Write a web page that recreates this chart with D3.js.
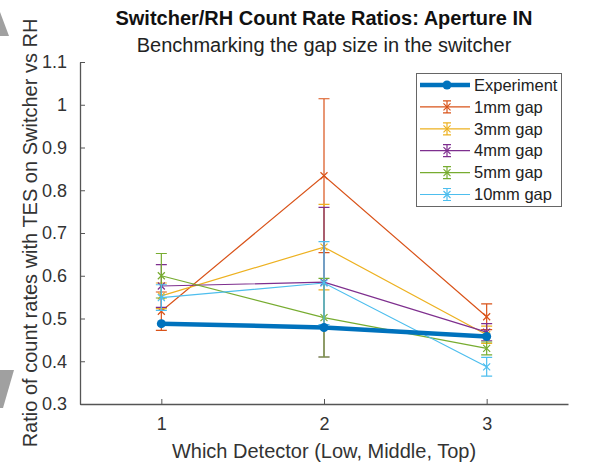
<!DOCTYPE html>
<html>
<head>
<meta charset="utf-8">
<script src="https://cdn.jsdelivr.net/npm/d3@7"></script>
<style>
  body { margin: 0; background: #fff; }
  svg { display: block; font-family: 'Liberation Sans', Arial, sans-serif; }
</style>
</head>
<body>
<div id="chart"></div>
<script>
// data
const detectors = [1, 2, 3];
const experiment = [0.488, 0.479, 0.458];
const gap1mm = [0.517, 0.834, 0.504];
const gap1mmErr = [0.045, 0.18, 0.03];
const gap3mm = [0.553, 0.667, 0.462];
const gap3mmErr = [0.03, 0.1, 0.02];
const gap4mm = [0.576, 0.585, 0.468];
const gap4mmErr = [0.05, 0.175, 0.02];
const gap5mm = [0.600, 0.502, 0.430];
const gap5mmErr = [0.052, 0.092, 0.015];
const gap10mm = [0.549, 0.583, 0.387];
const gap10mmErr = [0.03, 0.097, 0.022];
const seriesNames = ['1mm gap', '3mm gap', '4mm gap', '5mm gap', '10mm gap'];
const yTicks = [0.3, 0.4, 0.5, 0.6, 0.7, 0.8, 0.9, 1, 1.1];

const series = [
  { name: seriesNames[0], values: gap1mm, err: gap1mmErr, color: '#D95319' },
  { name: seriesNames[1], values: gap3mm, err: gap3mmErr, color: '#EDB120' },
  { name: seriesNames[2], values: gap4mm, err: gap4mmErr, color: '#7E2F8E' },
  { name: seriesNames[3], values: gap5mm, err: gap5mmErr, color: '#77AC30' },
  { name: seriesNames[4], values: gap10mm, err: gap10mmErr, color: '#4DBEEE' }
];

const width = 599;
const height = 463;
const svg = d3.select('#chart').append('svg')
  .attr('width', width)
  .attr('height', height);

// screenshot artefacts at left edge
svg.append('path').attr('d', 'M0,12 L9,36 L0,36 Z').attr('fill', '#a0a0a0');
svg.append('path').attr('d', 'M0,370 L14,370 L3,408 L0,408 Z').attr('fill', '#a0a0a0');

const plotLeft = 80, plotRight = 568, plotTop = 62, plotBottom = 404;

const x = d3.scaleLinear().domain([0.5, 3.5]).range([plotLeft, plotRight]);
const y = d3.scaleLinear().domain([0.3, 1.1]).range([plotBottom, plotTop]);

const axisColor = '#555';

// y axis
const yAxis = svg.append('g')
  .attr('transform', `translate(${plotLeft},0)`)
  .call(d3.axisLeft(y).tickValues(yTicks).tickSizeInner(-5).tickSizeOuter(0).tickPadding(13)
    .tickFormat(d => String(+d.toFixed(1))));
yAxis.select('.domain').attr('stroke', axisColor).attr('stroke-width', 1.3);
yAxis.selectAll('.tick line').attr('stroke', axisColor);
yAxis.selectAll('.tick text').attr('fill', '#333').attr('font-size', 18);

// x axis
const xAxis = svg.append('g')
  .attr('transform', `translate(0,${plotBottom})`)
  .call(d3.axisBottom(x).tickValues(detectors).tickSizeInner(-5).tickSizeOuter(0).tickPadding(13)
    .tickFormat(d3.format('d')));
xAxis.select('.domain').attr('stroke', axisColor).attr('stroke-width', 1.3);
xAxis.selectAll('.tick line').attr('stroke', axisColor);
xAxis.selectAll('.tick text').attr('fill', '#333').attr('font-size', 18);

// titles
svg.append('text')
  .attr('x', (plotLeft + plotRight) / 2)
  .attr('y', 25)
  .attr('text-anchor', 'middle')
  .attr('font-weight', 'bold')
  .attr('font-size', 20)
  .attr('fill', '#111')
  .text('Switcher/RH Count Rate Ratios: Aperture IN');

svg.append('text')
  .attr('x', (plotLeft + plotRight) / 2)
  .attr('y', 52)
  .attr('text-anchor', 'middle')
  .attr('font-size', 20)
  .attr('fill', '#222')
  .text('Benchmarking the gap size in the switcher');

svg.append('text')
  .attr('x', (plotLeft + plotRight) / 2)
  .attr('y', 458)
  .attr('text-anchor', 'middle')
  .attr('font-size', 20)
  .attr('fill', '#333')
  .text('Which Detector (Low, Middle, Top)');

svg.append('text')
  .attr('transform', `translate(37, 233) rotate(-90)`)
  .attr('text-anchor', 'middle')
  .attr('font-size', 20)
  .attr('fill', '#333')
  .text('Ratio of count rates with TES on Switcher vs RH');

const line = d3.line()
  .x((d, i) => x(detectors[i]))
  .y(d => y(d));

const cap = 5.5;
const mk = 3.5;

function crossPath(cx, cy, s) {
  return `M${cx - s},${cy - s}L${cx + s},${cy + s}M${cx - s},${cy + s}L${cx + s},${cy - s}`;
}

// gap series with error bars
series.forEach(s => {
  const g = svg.append('g');
  g.append('path')
    .datum(s.values)
    .attr('d', line)
    .attr('fill', 'none')
    .attr('stroke', s.color)
    .attr('stroke-width', 1.2);
  s.values.forEach((v, i) => {
    const cx = x(detectors[i]);
    const y0 = y(v - s.err[i]);
    const y1 = y(v + s.err[i]);
    g.append('path')
      .attr('d', `M${cx},${y0}L${cx},${y1}M${cx - cap},${y0}L${cx + cap},${y0}M${cx - cap},${y1}L${cx + cap},${y1}`)
      .attr('stroke', s.color)
      .attr('stroke-width', 1.2)
      .attr('fill', 'none');
    g.append('path')
      .attr('d', crossPath(cx, y(v), mk))
      .attr('stroke', s.color)
      .attr('stroke-width', 1.2);
  });
});

// experiment on top
const expG = svg.append('g');
expG.append('path')
  .datum(experiment)
  .attr('d', line)
  .attr('fill', 'none')
  .attr('stroke', '#0072BD')
  .attr('stroke-width', 4.5);
expG.selectAll('circle')
  .data(experiment)
  .enter()
  .append('circle')
  .attr('cx', (d, i) => x(detectors[i]))
  .attr('cy', d => y(d))
  .attr('r', 4.5)
  .attr('fill', '#0072BD');

// legend
const legend = svg.append('g');
legend.append('rect')
  .attr('x', 416.5)
  .attr('y', 73.5)
  .attr('width', 145)
  .attr('height', 133)
  .attr('fill', '#fff')
  .attr('stroke', '#666')
  .attr('stroke-width', 1);

const rowY = i => 85 + i * 21.9;
const lx0 = 420, lx1 = 470, lxm = 447, ltx = 474;

legend.append('line')
  .attr('x1', lx0).attr('x2', lx1)
  .attr('y1', rowY(0)).attr('y2', rowY(0))
  .attr('stroke', '#0072BD').attr('stroke-width', 4.5);
legend.append('circle')
  .attr('cx', lxm).attr('cy', rowY(0)).attr('r', 4.5)
  .attr('fill', '#0072BD');
legend.append('text')
  .attr('x', ltx).attr('y', rowY(0))
  .attr('dy', '0.35em')
  .attr('font-size', 16.5)
  .attr('fill', '#222')
  .text('Experiment');

series.forEach((s, k) => {
  const ry = rowY(k + 1);
  legend.append('line')
    .attr('x1', lx0).attr('x2', lx1)
    .attr('y1', ry).attr('y2', ry)
    .attr('stroke', s.color).attr('stroke-width', 1.2);
  legend.append('path')
    .attr('d', `M${lxm},${ry - 6}L${lxm},${ry + 6}M${lxm - 4},${ry - 6}L${lxm + 4},${ry - 6}M${lxm - 4},${ry + 6}L${lxm + 4},${ry + 6}`)
    .attr('stroke', s.color).attr('stroke-width', 1.2);
  legend.append('path')
    .attr('d', crossPath(lxm, ry, mk))
    .attr('stroke', s.color).attr('stroke-width', 1.2);
  legend.append('text')
    .attr('x', ltx).attr('y', ry)
    .attr('dy', '0.35em')
    .attr('font-size', 16.5)
    .attr('fill', '#222')
    .text(s.name);
});
</script>
</body>
</html>
